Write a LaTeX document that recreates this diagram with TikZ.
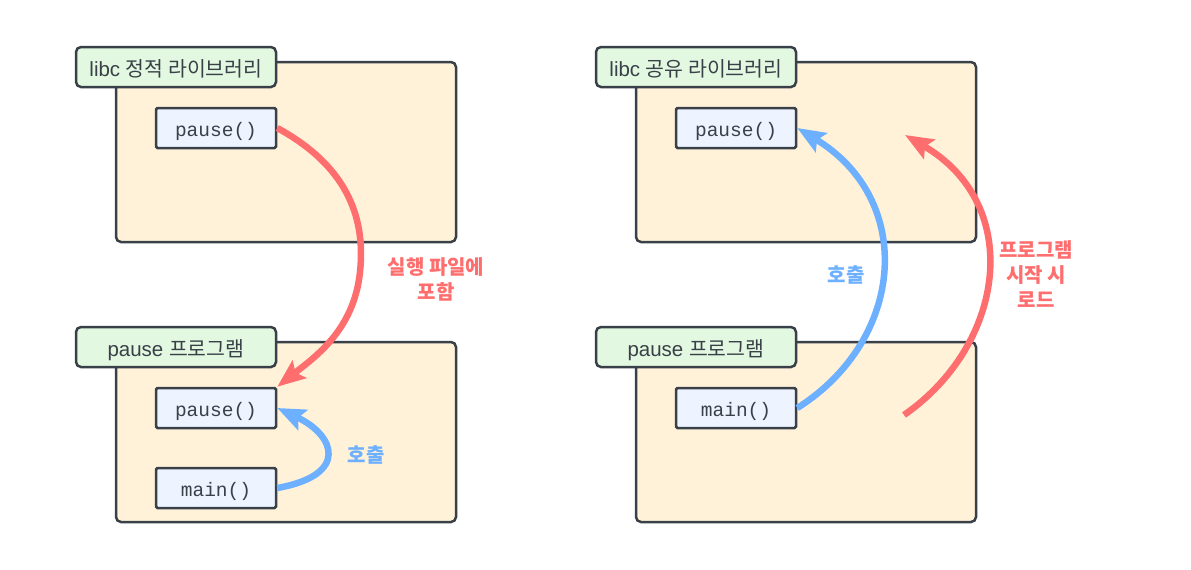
\documentclass[tikz,border=0pt]{standalone}
\usepackage{fontspec}
\setmainfont{Liberation Sans}
\setmonofont{Liberation Mono}
\newfontfamily\kr{Noto Sans CJK KR}
\usetikzlibrary{arrows.meta}
\definecolor{bordc}{HTML}{3A4048}
\definecolor{outerc}{HTML}{FFF2D9}
\definecolor{tabc}{HTML}{E2F8E1}
\definecolor{innerc}{HTML}{EDF4FF}
\definecolor{redc}{HTML}{FF6E6E}
\definecolor{bluec}{HTML}{6CB0FF}
\begin{document}
\begin{tikzpicture}[x=1pt,y=-1pt,
 outerbox/.style={draw=bordc, line width=2.5pt, fill=outerc, rounded corners=5pt, minimum width=340pt, minimum height=180pt, inner sep=0pt},
 tabbox/.style={draw=bordc, line width=2.5pt, fill=tabc, rounded corners=5pt, minimum width=200pt, minimum height=40pt, inner sep=0pt, text height=20pt, text depth=2pt, text=bordc, font=\fontsize{20.5}{22}\selectfont},
 funcbox/.style={draw=bordc, line width=2.5pt, fill=innerc, rounded corners=1.5pt, minimum width=120pt, minimum height=40pt, inner sep=0pt, text height=20pt, text depth=3pt, text=bordc, font=\ttfamily\fontsize{19.5}{21}\selectfont},
 redarrow/.style={draw=redc, line width=6.5pt, -{Stealth[length=28pt,width=22pt,inset=5pt]}},
 bluearrow/.style={draw=bluec, line width=6.5pt, -{Stealth[length=28pt,width=22pt,inset=5pt]}},
 redlabel/.style={text=redc, font=\kr\bfseries\fontsize{20}{25}\selectfont, align=center},
 bluelabel/.style={text=bluec, font=\kr\bfseries\fontsize{20}{25}\selectfont, align=center},
]
\useasboundingbox (0,0) rectangle (1191,570);
% left
\node[outerbox] (lt) at (286,152) {};
\node[tabbox] (ltt) at (176,67) {libc {\kr 정적 라이브러리}};
\node[funcbox] (lp1) at (216,128) {pause()};
\node[outerbox] (lb) at (286,432) {};
\node[tabbox] (lbt) at (176,347) {pause {\kr 프로그램}};
\node[funcbox] (lp2) at (216,408) {pause()};
\node[funcbox] (lm) at (216,488) {main()};
% right
\node[outerbox] (rt) at (806,152) {};
\node[tabbox] (rtt) at (696,67) {libc {\kr 공유 라이브러리}};
\node[funcbox] (rp) at (736,128) {pause()};
\node[outerbox] (rb) at (806,432) {};
\node[tabbox] (rbt) at (696,347) {pause {\kr 프로그램}};
\node[funcbox] (rm) at (736,408) {main()};
% arrows
\draw[redarrow] (lp1.east) .. controls (345,165) and (366,215) .. (360,272) .. controls (354,330) and (315,357) .. (lp2.north east);
\draw[bluearrow] (lm.east) .. controls (350,475) and (335,435) .. (lp2.east);
\draw[bluearrow] (rm.east) .. controls (905,340) and (916,200) .. (rp.east);
\coordinate (rs) at (904,415);
\coordinate (re) at (905,135);
\draw[redarrow] (rs) .. controls (1005,345) and (1025,205) .. (re);
% labels
\node[redlabel] (l1) at (436,279) {실행 파일에\\포함};
\node[bluelabel] (l2) at (366,455) {호출};
\node[bluelabel] (l3) at (846,275) {호출};
\node[redlabel] (l4) at (1036,274) {프로그램\\시작 시\\로드};
\end{tikzpicture}
\end{document}
